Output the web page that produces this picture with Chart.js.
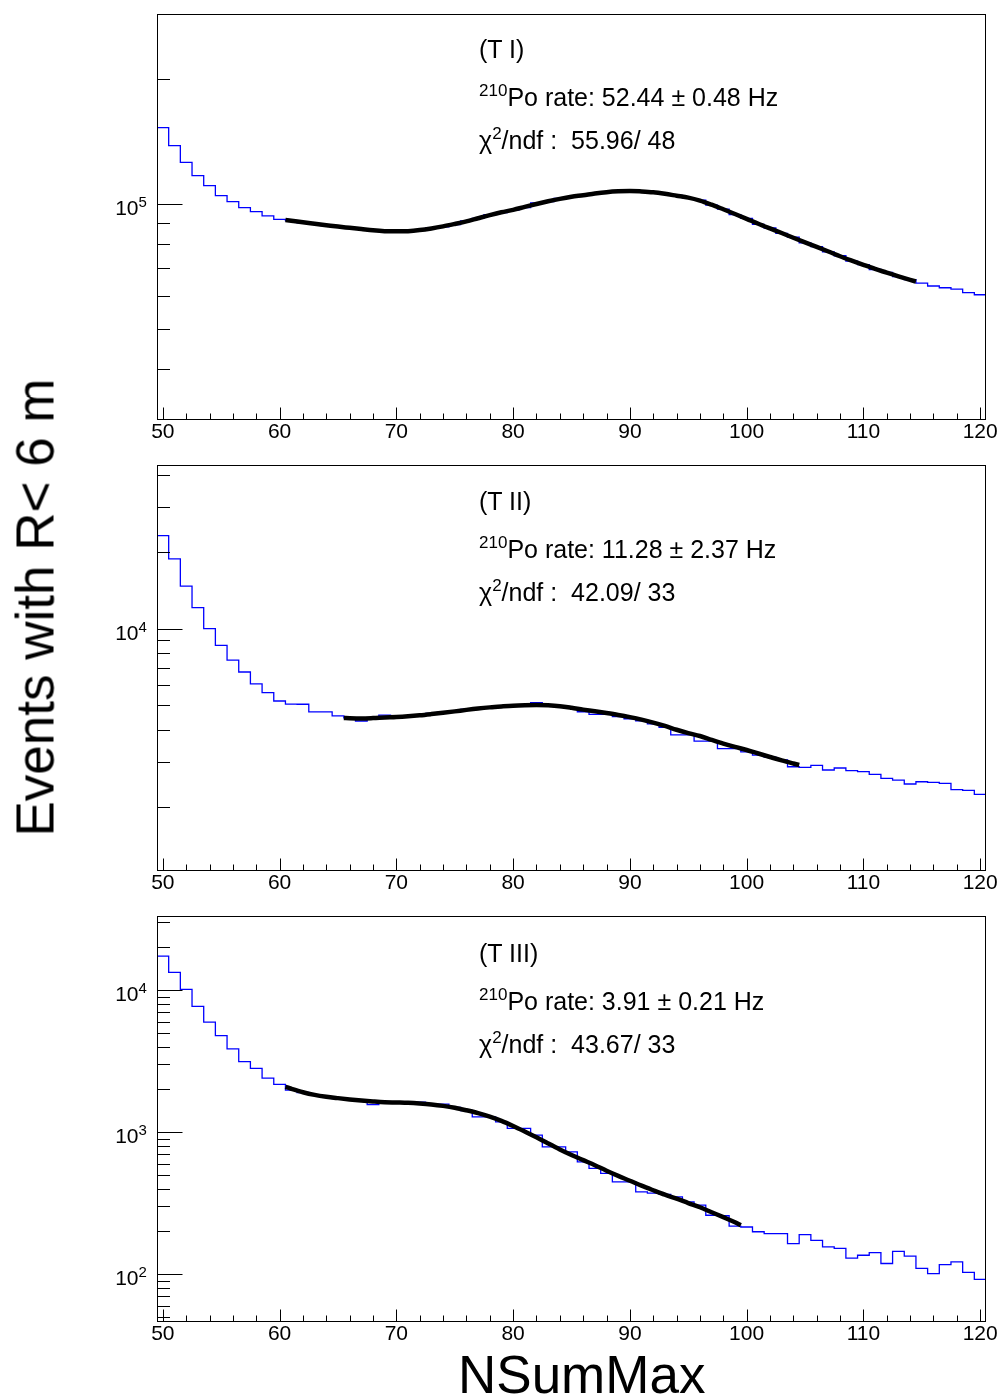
<!DOCTYPE html>
<html>
<head>
<meta charset="utf-8">
<script src="https://cdn.jsdelivr.net/npm/chart.js@4.4.1/dist/chart.umd.min.js"></script>
<style>
html,body{margin:0;padding:0;background:#fff;width:1002px;height:1398px;overflow:hidden;position:relative;}
canvas{position:absolute;left:0;}
.ann{position:absolute;left:479px;font-family:"Liberation Sans",Arial,sans-serif;font-size:25px;line-height:25px;white-space:pre;color:#000;z-index:5;}
.sup{font-size:17px;position:relative;top:-10px;}
.xtitle{position:absolute;left:458px;top:1348px;font-family:"Liberation Sans",Arial,sans-serif;font-size:53px;line-height:53px;white-space:pre;color:#000;}
.ytitle{position:absolute;left:-265px;top:581px;width:600px;height:53px;line-height:53px;text-align:center;font-family:"Liberation Sans",Arial,sans-serif;font-size:53px;white-space:pre;color:#000;transform:rotate(-90deg);}
</style>
</head>
<body>
<canvas id="c1" width="1002" height="453" style="top:0px"></canvas>
<canvas id="c2" width="1002" height="453" style="top:451px"></canvas>
<canvas id="c3" width="1002" height="453" style="top:902px"></canvas>

<div class="ann" style="top:37px">(T I)</div>
<div class="ann" style="top:85px"><span class="sup">210</span>Po rate: 52.44 ± 0.48 Hz</div>
<div class="ann" style="top:128px">χ<span class="sup">2</span>/ndf :  55.96/ 48</div>

<div class="ann" style="top:489px">(T II)</div>
<div class="ann" style="top:537px"><span class="sup">210</span>Po rate: 11.28 ± 2.37 Hz</div>
<div class="ann" style="top:580px">χ<span class="sup">2</span>/ndf :  42.09/ 33</div>

<div class="ann" style="top:941px">(T III)</div>
<div class="ann" style="top:989px"><span class="sup">210</span>Po rate: 3.91 ± 0.21 Hz</div>
<div class="ann" style="top:1032px">χ<span class="sup">2</span>/ndf :  43.67/ 33</div>

<div class="xtitle">NSumMax</div>
<div class="ytitle">Events with R&lt; 6 m</div>

<script>
// ---------------- DATA ----------------
const nsumBins = [50,51,52,53,54,55,56,57,58,59,60,61,62,63,64,65,66,67,68,69,70,71,72,73,74,75,76,77,78,79,80,81,82,83,84,85,86,87,88,89,90,91,92,93,94,95,96,97,98,99,100,101,102,103,104,105,106,107,108,109,110,111,112,113,114,115,116,117,118,119,120];

const xTickLabels = [50,60,70,80,90,100,110,120];

// Panel T I
const histT1 = [152800,138300,126000,117000,110700,104700,101300,97970,95800,93600,
  91800,91200,90100,89700,88700,88300,87400,87100,86200,86000,
  85800,86100,86400,87500,88100,89200,91000,92300,94200,95300,
  96600,98000,100600,101300,103100,104000,105200,105900,107000,107200,
  107600,107100,106900,105600,104900,103400,102100,99400,97200,94300,
  92300,89300,87500,84900,83200,80600,78900,76600,75000,72800,
  71400,69500,68400,66800,65700,64400,63400,62800,62300,61100,
  60400];
const fitXT1 = [60.5,61,62,63,64,65,66,67,68,69,70,71,72,73,74,75,76,77,78,79,80,81,82,83,84,85,86,87,88,89,90,91,92,93,94,95,96,97,98,99,100,101,102,103,104,105,106,107,108,109,110,111,112,113,114,114.5];
const fitYT1 = [91500,91100,90300,89600,88900,88200,87600,87000,86400,86000,85900,86000,86500,87300,88300,89500,90800,92400,94000,95500,96800,98400,100000,101500,102900,104100,105000,106000,106800,107300,107500,107200,106700,105800,104700,103600,101900,99600,97100,94600,92100,89600,87300,85100,82900,80800,78800,76800,74800,73000,71300,69700,68300,66900,65600,65000];

// Panel T II
const histT2 = [23200,18800,14700,12100,10000,8600,7530,6760,6070,5610,
  5200,5060,5050,4710,4710,4550,4470,4340,4470,4575,
  4500,4540,4580,4650,4700,4760,4820,4870,4920,4960,
  4990,5010,5120,5000,4940,4870,4720,4610,4610,4520,
  4430,4350,4230,4100,3830,3830,3620,3620,3380,3380,
  3280,3190,3130,3050,2870,2855,2908,2786,2837,2769,
  2744,2680,2585,2545,2455,2506,2492,2470,2332,2319,
  2237];
const fitXT2 = [65.5,66,67,68,69,70,71,72,73,74,75,76,77,78,79,80,81,82,83,84,85,86,87,88,89,90,91,92,93,94,95,96,97,98,99,100,101,102,103,104,104.5];
const fitYT2 = [4460,4450,4440,4455,4480,4500,4530,4570,4620,4675,4735,4800,4860,4910,4950,4985,5005,5015,5000,4960,4890,4810,4740,4665,4585,4495,4395,4280,4150,4010,3890,3790,3660,3540,3435,3340,3235,3135,3040,2955,2915];

// Panel T III
const histT3 = [17350,13310,10110,7670,5950,4770,3860,3130,2810,2400,
  2167,1975,1900,1830,1770,1720,1700,1660,1560,1635,
  1630,1630,1625,1574,1574,1490,1420,1282,1282,1182,
  1062,1062,953,788,788,727,618,555,512,447,
  447,380,372,365,350,323,306,260,258,218,
  215,199,193,193,164,190,173,156,152,130,
  136,142,119,145,134,110,101,117,122,103,
  92];
const fitXT3 = [60.5,61,62,63,64,65,66,67,68,69,70,71,72,73,74,75,76,77,78,79,80,81,82,83,84,85,86,87,88,89,90,91,92,93,94,95,96,97,98,99,99.5];
const fitYT3 = [2084,2020,1910,1830,1775,1735,1700,1670,1645,1625,1617,1608,1590,1565,1530,1485,1425,1360,1285,1200,1105,1010,920,832,755,690,635,585,535,492,455,420,390,363,340,317,296,273,252,232,221];

// ---------------- CHART ----------------
const FONT = '"Liberation Sans", Arial, sans-serif';

function stepPoints(centers, values) {
  const pts = centers.map((c, i) => ({x: c - 0.5, y: values[i]}));
  pts.push({x: centers[centers.length - 1] + 0.5, y: values[values.length - 1]});
  return pts;
}
function curvePoints(xs, ys) {
  return xs.map((x, i) => ({x: x, y: ys[i]}));
}

const rootFrame = {
  id: 'rootFrame',
  afterDatasetsDraw(chart) {
    const ctx = chart.ctx;
    const a = chart.chartArea;
    const xs = chart.scales.x, ys = chart.scales.y;
    const L = Math.round(a.left) + 0.5, R = Math.round(a.right) - 0.5;
    const T = Math.round(a.top) + 0.5, B = Math.round(a.bottom) - 0.5;
    ctx.save();
    ctx.strokeStyle = '#000';
    ctx.lineWidth = 1;
    ctx.strokeRect(L, T, R - L, B - T);
    ctx.beginPath();
    for (let v = 50; v <= 120; v += 2) {
      const px = Math.round(xs.getPixelForValue(v)) + 0.5;
      const len = (v % 10 === 0) ? 12 : 6;
      ctx.moveTo(px, B); ctx.lineTo(px, B - len);
    }
    const dMin = Math.floor(Math.log10(ys.min)), dMax = Math.ceil(Math.log10(ys.max));
    const labels = [];
    for (let d = dMin; d <= dMax; d++) {
      for (let k = 1; k <= 9; k++) {
        const v = k * Math.pow(10, d);
        if (v < ys.min || v > ys.max) continue;
        const py = Math.round(ys.getPixelForValue(v)) + 0.5;
        const len = (k === 1) ? 25 : 12.5;
        ctx.moveTo(L, py); ctx.lineTo(L + len, py);
        if (k === 1) labels.push({py: py, d: d});
      }
    }
    ctx.stroke();
    ctx.fillStyle = '#000';
    labels.forEach(l => {
      ctx.font = '21px ' + FONT;
      ctx.textAlign = 'right';
      ctx.textBaseline = 'alphabetic';
      ctx.fillText('10', 138.5, l.py + 10);
      ctx.font = '15px ' + FONT;
      ctx.textAlign = 'left';
      ctx.fillText(String(l.d), 138.5, l.py + 2);
    });
    ctx.restore();
  }
};

function makePanel(id, hist, fx, fy, yMin, yMax) {
  new Chart(document.getElementById(id), {
    type: 'line',
    data: {
      datasets: [
        {
          label: 'fit',
          data: curvePoints(fx, fy),
          borderColor: '#000',
          borderWidth: 4.5,
          pointRadius: 0,
          cubicInterpolationMode: 'monotone',
          fill: false
        },
        {
          label: 'histogram',
          data: stepPoints(nsumBins, hist),
          borderColor: '#0000ff',
          borderWidth: 1.3,
          pointRadius: 0,
          stepped: true,
          fill: false
        }
      ]
    },
    options: {
      responsive: false,
      animation: false,
      devicePixelRatio: 1,
      layout: {padding: {left: 0, right: 16, top: 14, bottom: 0}},
      plugins: {legend: {display: false}, tooltip: {enabled: false}},
      scales: {
        x: {
          type: 'linear', position: 'bottom', min: 49.5, max: 120.5,
          grid: {display: false, drawTicks: false},
          border: {display: false},
          afterBuildTicks: s => { s.ticks = xTickLabels.map(v => ({value: v})); },
          ticks: {
            color: '#000', font: {family: FONT, size: 21}, padding: 0,
            maxRotation: 0, autoSkip: false,
            callback: v => String(v)
          },
          afterFit: s => { s.height = 33; }
        },
        y: {
          type: 'logarithmic', position: 'left', min: yMin, max: yMax,
          grid: {display: false, drawTicks: false},
          border: {display: false},
          ticks: {display: false},
          afterFit: s => { s.width = 157; }
        }
      }
    },
    plugins: [rootFrame]
  });
}

makePanel('c1', histT1, fitXT1, fitYT1, 30120, 287300);
makePanel('c2', histT2, fitXT2, fitYT2, 1117.8, 43960);
makePanel('c3', histT3, fitXT3, fitYT3, 46.1, 33200);
</script>
</body>
</html>
